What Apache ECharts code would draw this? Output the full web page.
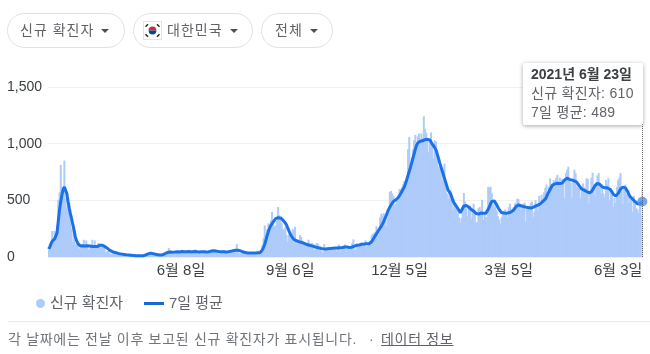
<!DOCTYPE html>
<html lang="ko">
<head>
<meta charset="utf-8">
<title>신규 확진자</title>
<script src="https://cdn.jsdelivr.net/npm/echarts@6/dist/echarts.min.js"></script>
<style>
  html, body { margin: 0; padding: 0; background: #fff; }
  body { width: 650px; height: 354px; overflow: hidden; position: relative;
    font-family: "Liberation Sans", "Noto Sans CJK KR", sans-serif; color: #5f6368; }
  #chart { position: absolute; left: 0; top: 0; width: 650px; height: 354px; }
  .chip { position: absolute; top: 13px; height: 33px; line-height: 33px; border: 1px solid #dfe1e5;
    border-radius: 18px; font-size: 14px; letter-spacing: 1px; color: #5f6368; background: #fff; box-sizing: content-box; }
  .chip span { position: absolute; top: 0; white-space: nowrap; }
  .caret { position: absolute; top: 15px; width: 0; height: 0; border-left: 4px solid transparent;
    border-right: 4px solid transparent; border-top: 4px solid #4d5156; }
  .chip svg { position: absolute; top: 7px; }
  #rule { position: absolute; left: 8px; right: 0; top: 321px; height: 1px; background: #ebebeb; }
  #note { position: absolute; left: 8px; top: 330px; font-size: 14px; letter-spacing: 0.7px; line-height: 18px; white-space: nowrap; color: #70757a; }
  #note .dot { position: absolute; left: 361px; }
  #note u { position: absolute; left: 373px; color: #5f6368; }
</style>
</head>
<body>
<div id="chart"></div>
<div class="chip" style="left:7px;width:116px"><span style="left:12px">신규 확진자</span><i class="caret" style="left:93px"></i></div>
<div class="chip" style="left:133px;width:118px">
  <svg style="left:9px" width="19" height="19" viewBox="0 0 19 19">
    <rect x="0.5" y="0.5" width="18" height="18" fill="#fff" stroke="#e4e4e4"/>
    <path d="M5.6 9.5a3.9 3.9 0 0 1 7.8 0z" fill="#cd2e3a"/>
    <path d="M5.6 9.5a3.9 3.9 0 0 0 7.8 0z" fill="#0047a0"/>
    <g stroke="#222" stroke-width="1.4">
      <path d="M2.5 5.8l2.5-2.5"/><path d="M14 3.3l2.5 2.5"/><path d="M2.5 13.2l2.5 2.5"/><path d="M14 15.7l2.5-2.5"/>
    </g>
  </svg>
  <span style="left:33px">대한민국</span><i class="caret" style="left:96px"></i>
</div>
<div class="chip" style="left:261px;width:70px"><span style="left:13px">전체</span><i class="caret" style="left:48px"></i></div>
<div id="rule"></div>
<div id="note">각 날짜에는 전날 이후 보고된 신규 확진자가 표시됩니다.<span class="dot">·</span><u>데이터 정보</u></div>

<script>
  const firstDay = '2020-02-20'
  const tickDates = ['2020-06-08', '2020-09-06', '2020-12-05', '2021-03-05', '2021-06-03']
  const yTicks = [0, 500, 1000, 1500]

  // 일별 신규 확진자
  const newCases = [
    60,74,100,229,169,231,144,284,505,571,
    813,586,599,851,516,438,518,483,367,248,
    131,242,114,110,107,76,74,84,93,152,
    87,147,98,64,76,100,152,91,146,105,
    78,125,101,89,86,94,81,47,47,53,
    39,27,30,32,25,27,27,22,22,18,
    8,13,9,11,8,6,10,10,10,14,
    9,4,9,6,13,8,3,2,4,12,
    18,34,35,27,26,29,27,19,13,15,
    13,32,12,20,23,25,16,19,40,79,
    58,39,27,35,38,49,39,39,51,57,
    38,38,50,45,56,49,37,34,43,59,
    49,67,48,17,46,51,28,39,51,62,
    42,43,50,54,63,63,61,46,46,50,
    24,35,44,50,35,61,39,34,26,39,
    60,59,41,48,58,113,58,34,28,48,
    36,33,30,23,31,43,34,30,33,28,
    43,36,28,34,54,56,103,166,279,197,
    246,297,288,324,397,332,266,280,320,441,
    371,323,299,248,235,267,195,136,198,168,
    168,248,235,267,119,136,156,195,176,136,
    121,109,106,113,153,126,110,125,114,61,
    110,125,114,61,95,50,38,113,77,63,
    75,64,73,75,64,72,69,54,84,110,
    47,73,91,84,110,47,97,76,58,91,
    121,155,77,61,119,88,103,125,126,118,
    125,146,89,100,118,143,191,205,208,223,
    271,230,193,349,382,363,386,330,271,349,
    413,575,583,560,540,451,470,511,540,600,
    600,615,640,670,631,682,950,1060,830,880,
    950,1030,1078,1014,1064,1090,1020,1090,1050,1241,
    1132,1097,1050,924,1020,1100,1000,870,1029,1020,
    940,800,787,808,670,714,824,655,560,510,
    580,590,510,420,510,455,440,390,350,300,
    345,420,565,490,430,360,440,455,337,430,
    470,400,300,310,430,440,410,505,330,390,
    355,350,620,610,620,560,470,440,470,410,
    360,330,290,350,395,395,420,400,350,440,
    470,420,390,440,470,480,515,510,450,415,
    445,470,480,310,430,445,420,480,490,350,
    400,500,470,415,540,470,550,490,570,610,
    640,560,620,695,600,640,680,660,700,725,
    660,700,680,690,660,520,740,770,797,680,
    655,520,700,770,740,620,610,600,520,590,
    650,580,615,695,690,470,560,700,745,640,
    540,660,720,740,620,560,640,560,530,680,
    640,695,500,610,560,440,520,480,620,680,
    700,740,590,470,600,640,550,570,480,540,
    500,400,540,480,430,420,390,480,370,610
  ]

  // 7일 평균
  const avg7 = [
    70,88,118,140,152,160,170,215,320,420,
    490,550,600,618,615,560,490,430,380,335,
    285,235,180,145,120,105,98,96,100,104,
    98,96,100,98,97,95,92,94,92,90,
    92,98,103,106,104,100,94,88,80,70,
    62,56,50,46,42,39,36,33,30,28,
    26,24,23,22,20,19,18,17,16,15,
    14,13,12,12,11,11,10,10,12,14,
    18,22,27,32,34,33,30,28,24,22,
    20,19,18,19,20,24,30,36,40,43,
    44,45,43,42,44,46,47,45,44,46,
    48,47,46,45,47,49,48,46,45,47,
    49,48,47,46,44,45,47,48,46,45,
    43,44,46,49,52,54,55,54,52,50,
    48,47,46,47,46,45,44,45,46,48,
    50,53,56,58,60,61,60,57,54,50,
    46,42,39,37,36,35,35,34,35,36,
    36,36,37,37,38,48,62,85,115,150,
    190,225,255,278,295,310,325,338,345,347,
    350,345,335,325,315,300,280,255,228,205,
    182,165,155,148,143,140,136,133,130,126,
    123,118,114,110,106,103,100,97,94,90,
    87,85,82,80,76,73,72,71,70,71,
    73,75,76,77,78,79,80,81,80,81,
    82,83,84,86,88,90,88,85,83,84,
    88,92,96,100,104,103,106,110,113,112,
    115,117,118,116,118,122,135,150,170,188,
    205,222,240,255,272,292,315,340,365,395,
    420,440,460,475,490,500,505,515,525,540,
    560,580,600,620,650,685,720,755,790,830,
    870,910,950,985,1005,1018,1022,1020,1025,1030,
    1035,1030,1038,1040,1032,1015,995,985,965,945,
    910,875,835,800,765,730,695,660,625,590,
    575,560,530,495,475,460,445,430,410,390,
    405,430,450,460,455,448,440,430,420,415,
    405,395,385,380,378,382,388,392,386,384,
    385,400,420,445,470,490,498,495,480,460,
    440,420,405,392,390,388,386,387,389,390,
    392,398,405,415,430,445,455,460,458,452,
    448,446,443,440,438,436,435,433,432,438,
    445,450,455,458,460,470,480,490,500,510,
    530,555,575,595,615,635,640,645,648,650,
    645,648,650,652,665,680,690,695,690,685,
    680,678,675,672,675,660,645,627,612,600,
    592,590,585,578,570,567,567,575,590,610,
    630,645,650,648,640,628,618,612,610,608,
    610,608,600,590,575,555,540,538,545,560,
    580,600,612,617,618,610,595,575,550,532,
    522,510,498,488,478,470,465,467,478,489
  ]

  const days = newCases.map((_, i) => {
    const d = new Date(firstDay + 'T00:00:00Z')
    d.setUTCDate(d.getUTCDate() + i)
    return d.toISOString().slice(0, 10)
  })
  const lastIndex = days.length - 1

  const fontFamily = '"Liberation Sans", "Noto Sans CJK KR", sans-serif'
  const textColor = '#5f6368'

  const myChart = echarts.init(document.getElementById('chart'))
  myChart.setOption({
    animation: false,
    grid: { left: 48, right: 7, top: 87, height: 170, containLabel: false },
    legend: [
      {
        left: 31, top: 291, itemWidth: 9, itemHeight: 9, itemGap: 0, selectedMode: false,
        icon: 'circle', data: ['신규 확진자'],
        textStyle: { color: textColor, fontSize: 15, fontFamily }
      },
      {
        left: 139, top: 291, itemWidth: 20, itemHeight: 3, selectedMode: false,
        icon: 'rect', data: ['7일 평균'],
        textStyle: { color: textColor, fontSize: 15, fontFamily }
      }
    ],
    tooltip: {
      trigger: 'axis',
      triggerOn: 'none',
      alwaysShowContent: true,
      transitionDuration: 0,
      position: [523, 63],
      padding: 0,
      borderWidth: 0,
      backgroundColor: '#fff',
      extraCssText: 'box-shadow:0 1px 4px rgba(0,0,0,0.35);border-radius:2px;width:120px;height:62px;',
      axisPointer: { type: 'line', lineStyle: { color: '#5f6368', type: 'dotted', width: 1 }, label: { show: false } },
      formatter: () => `<div style="padding:2px 0 0 8px;font:14px/19px ${fontFamily.replace(/"/g, "'")};letter-spacing:0.3px;color:${textColor};white-space:nowrap">
        <div style="font-weight:bold;color:#3c4043;letter-spacing:0">2021년 6월 23일</div>
        <div>신규 확진자: ${newCases[lastIndex]}</div>
        <div>7일 평균: ${avg7[lastIndex]}</div></div>`
    },
    xAxis: {
      type: 'category',
      data: days,
      boundaryGap: true,
      axisLine: { show: false },
      axisTick: { show: false },
      axisLabel: {
        interval: (i, v) => tickDates.includes(v),
        formatter: (v) => `${+v.slice(5, 7)}월 ${+v.slice(8, 10)}일`,
        color: '#3c4043', fontSize: 15, fontFamily, margin: 6, hideOverlap: false
      }
    },
    yAxis: {
      type: 'value',
      min: 0,
      max: yTicks[yTicks.length - 1],
      interval: 500,
      axisLine: { show: false },
      axisTick: { show: false },
      splitLine: { lineStyle: { color: '#f0f0f0', width: 1 } },
      axisLabel: {
        color: '#3c4043', fontSize: 14, fontFamily, align: 'left', margin: 41,
        formatter: (v) => v.toLocaleString('en-US')
      }
    },
    series: [
      {
        name: '신규 확진자',
        type: 'bar',
        data: newCases,
        barWidth: 2,
        itemStyle: { color: '#aecbfa' },
        silent: true
      },
      {
        name: '7일 평균',
        type: 'line',
        data: avg7,
        symbol: 'none',
        lineStyle: { color: '#1967d2', width: 3 },
        itemStyle: { color: '#1967d2' },
        silent: true
      },
      {
        name: 'last',
        type: 'scatter',
        data: days.map((d, i) => (i === lastIndex ? avg7[i] : null)),
        symbolSize: 9,
        itemStyle: { color: '#4285f4' },
        silent: true,
        z: 5
      }
    ]
  })
  myChart.dispatchAction({ type: 'showTip', seriesIndex: 0, dataIndex: lastIndex })
</script>
</body>
</html>
